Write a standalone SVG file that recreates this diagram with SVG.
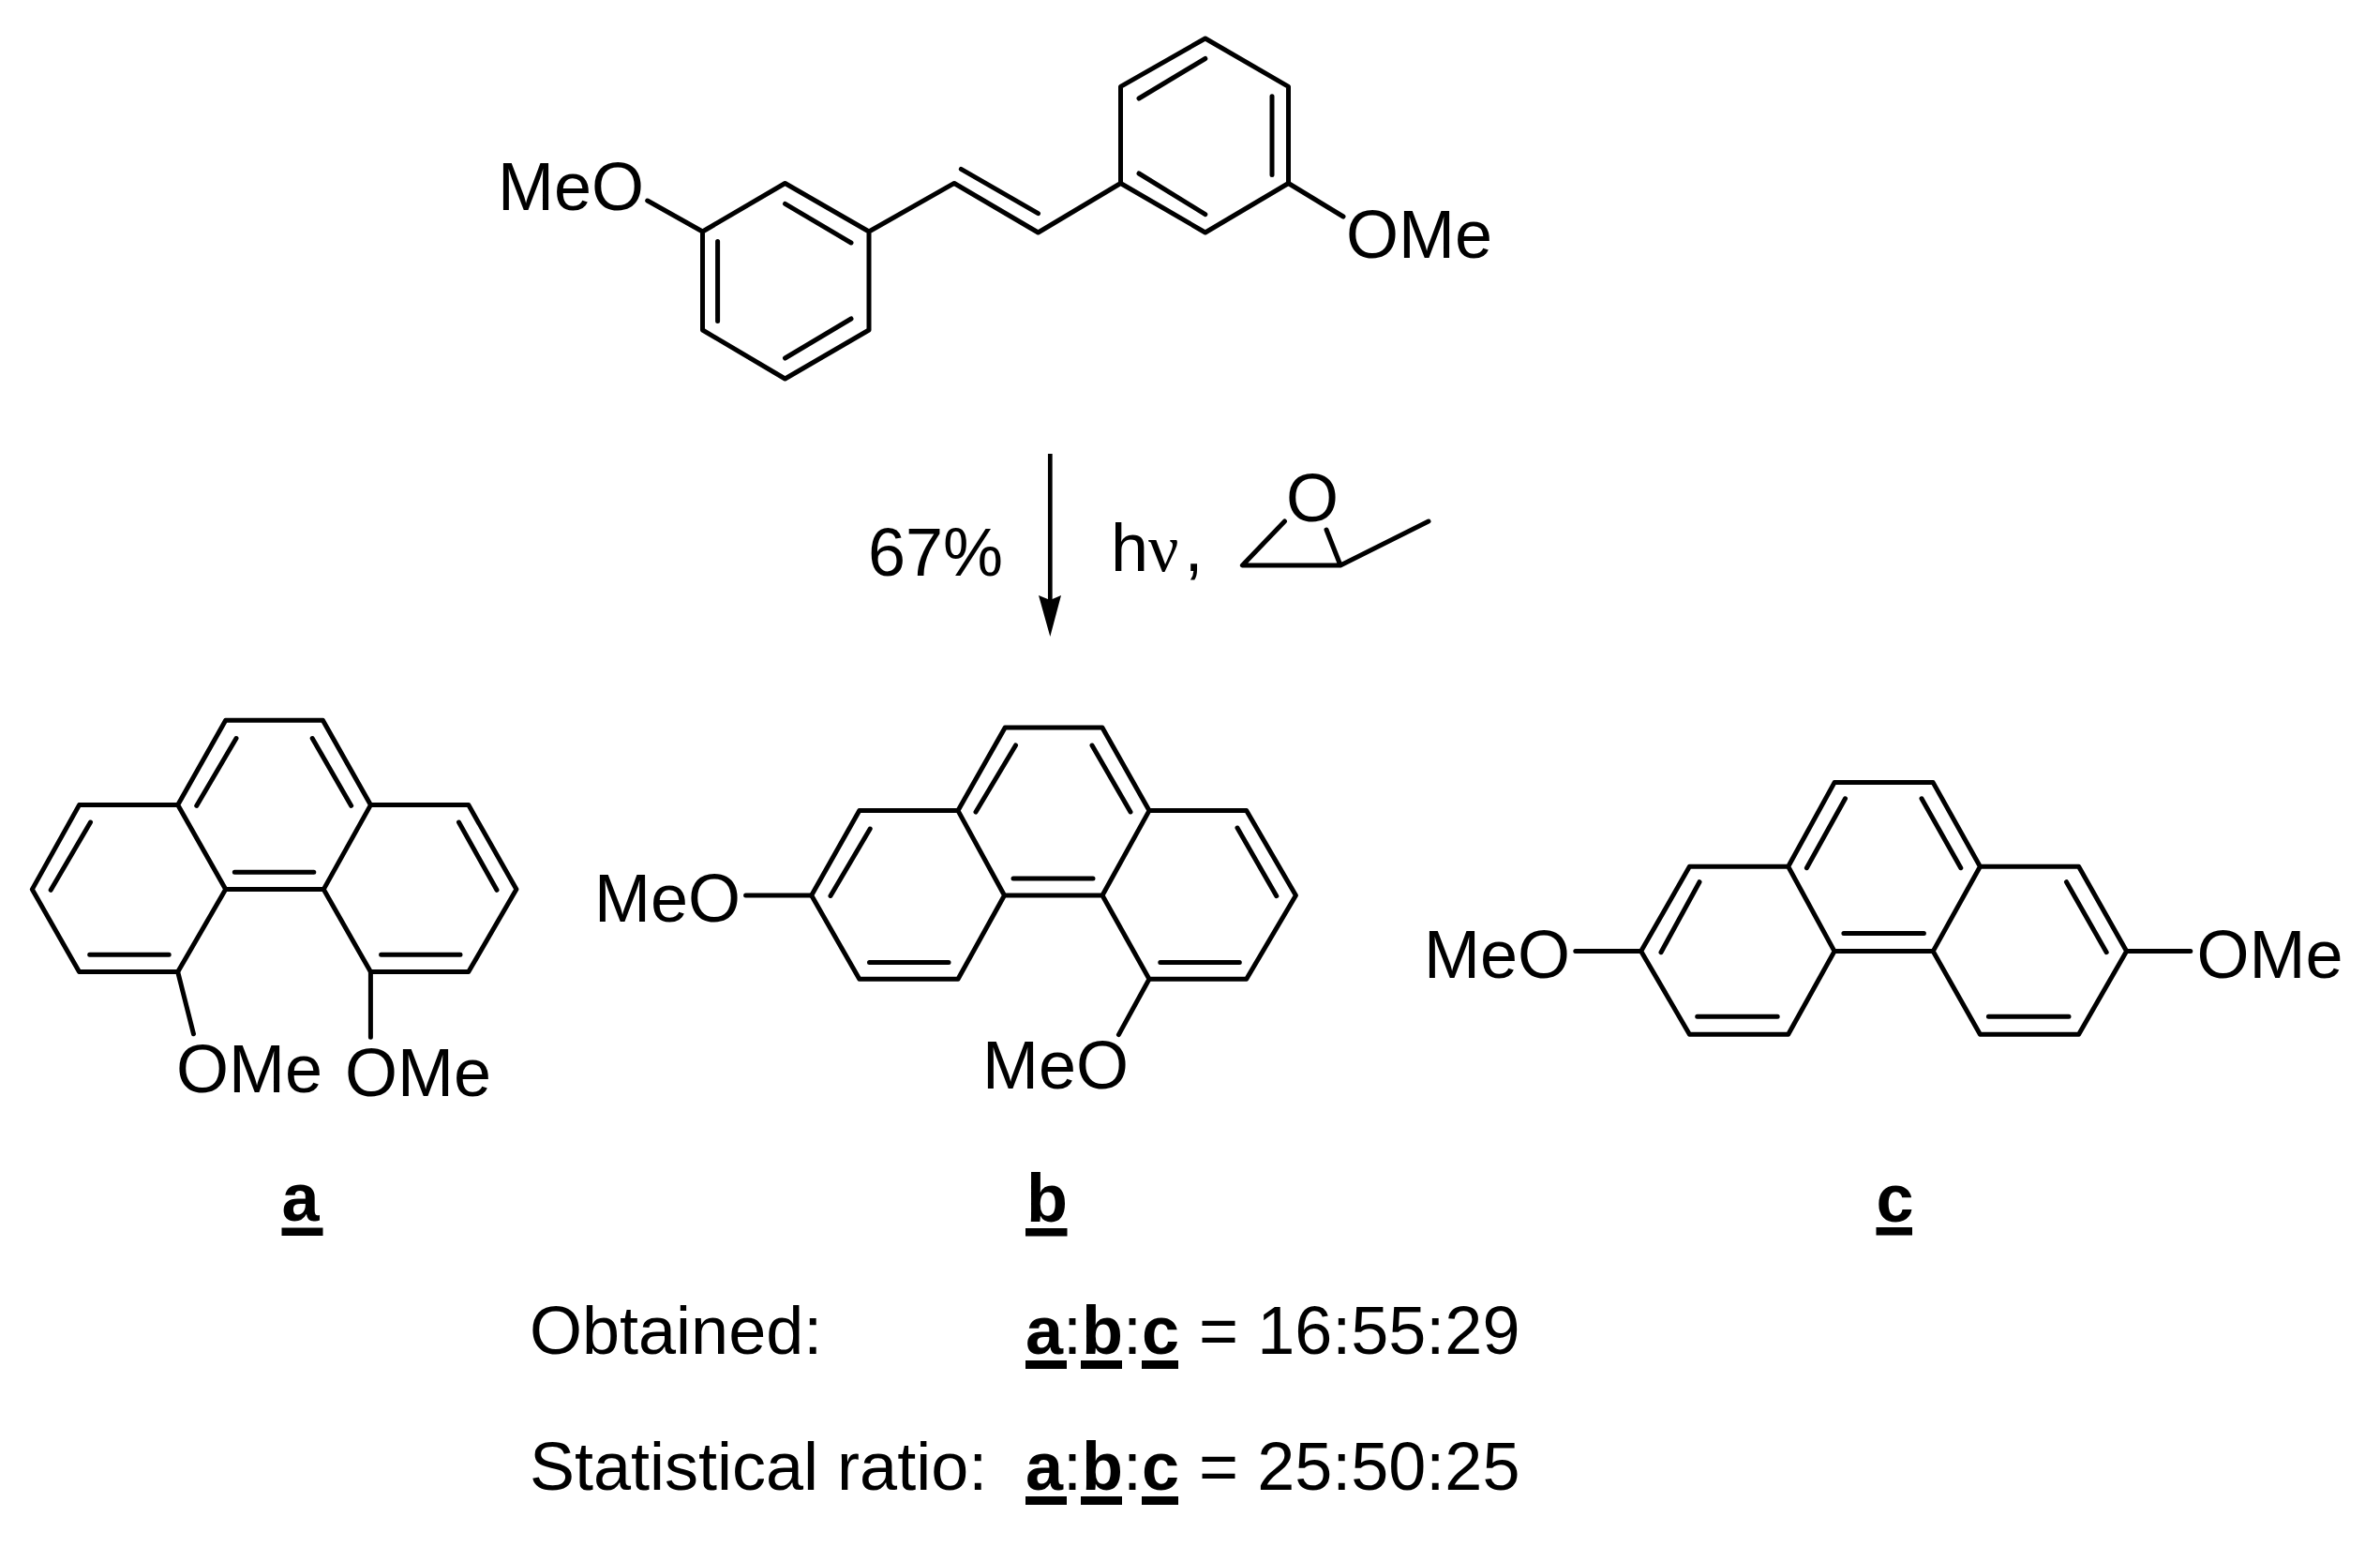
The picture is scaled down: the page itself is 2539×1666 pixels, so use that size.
<svg xmlns="http://www.w3.org/2000/svg" width="2539" height="1666" viewBox="0 0 2539 1666">
<style>
text{font-family:"Liberation Sans",Arial,sans-serif;font-size:72px;fill:#000}
.b{font-weight:bold}
.nu{font-family:"Liberation Serif",serif}
.bond{fill:none;stroke:#000;stroke-width:5;stroke-linecap:round;stroke-linejoin:round}
.u{fill:#000}
</style>
<rect width="2539" height="1666" fill="#fff"/>
<g id="stilbene">
<path class="bond" d="M837.5 195.5L927 247V352L837.5 404L749.5 352V247ZM927 247L1018 195.5L1107.5 248L1195.5 195.5V92.4L1285.8 41L1374.5 92.4V195.5L1285.8 248L1195.5 195.5M749.5 247L690.7 214M1374.5 195.5L1433 231"/>
<path class="bond" d="M765.6 257.6V342.4M837.5 217.4L908 259M908 340L837.5 382M1025.3 180.4L1107.5 227.7M1215 105L1285.8 62.5M1357 102.7V186.6M1215 185L1285.8 228.6"/>
<text x="531" y="224">MeO</text>
<text x="1436" y="275">OMe</text>
</g>
<g id="conditions">
<text x="926" y="614">67%</text>
<text x="1185" y="608.5">h<tspan class="nu">ν</tspan><tspan dx="6">,</tspan></text>
<path class="bond" d="M1370.5 556L1325.4 603H1430L1524 556M1430 603L1415 565"/>
<text x="1372" y="556">O</text>
</g>
<g id="compound-a">
<path class="bond" d="M240.7 768.3H344.4L395.4 858.6L345.2 948.6H240.7L189.7 858.6ZM189.7 858.6H84.5L34.3 948.6L84.5 1036.6H189.7L240.7 948.6M395.4 858.6H499.8L550.9 948.6L499.8 1036.6H395.4L345.2 948.6"/>
<path class="bond" d="M252 787.5L209.7 859.4M333.2 787.5L374.7 859.4M96.5 877L54.2 949.3M95.7 1018.2H180.2M250.3 930.2H334.8M489.5 877L530 949.3M406.6 1018.2H491M189.7 1036.6L206.5 1102.8M395.4 1036.6V1106.2"/>
<text x="188" y="1165">OMe</text>
<text x="368" y="1169">OMe</text>
<text class="b" x="300.5" y="1301.5">a</text><rect class="u" x="300.5" y="1309.5" width="44" height="8.5"/>
</g>
<g id="compound-b">
<path class="bond" d="M1072.2 776H1175.9L1226 864.6L1176 955H1071.5L1022 864.6ZM1022 864.6H916.8L865.7 955L916.8 1044.3H1022L1071.5 955M1226 864.6H1329.7L1382.4 955L1329.7 1044.3H1226L1176 955"/>
<path class="bond" d="M1083.5 795L1041 866M1165 795L1206 866M928.2 884L886 955.5M927.5 1026.4H1012M1081 937H1166M1320 883L1361.8 955.7M1237.8 1026.4H1322.3M865.7 955H795.6M1226 1044.3L1193.4 1103.6"/>
<text x="634" y="983">MeO</text>
<text x="1048" y="1161">MeO</text>
<text class="b" x="1095" y="1302.5">b</text><rect class="u" x="1094" y="1310" width="44.5" height="8.5"/>
</g>
<g id="compound-c">
<path class="bond" d="M1957 834.6H2062.2L2112.4 924.3L2062.2 1014.6H1957L1907.7 924.3ZM1907.7 924.3H1802.4L1750.7 1014.6L1802.4 1103.2H1907.7L1957 1014.6M2112.4 924.3H2217.6L2268.6 1014.6L2217.6 1103.2H2112.4L2062.2 1014.6"/>
<path class="bond" d="M1968.5 851.8L1927.4 925.7M2050 851.8L2091.8 925.7M1813 940.7L1772 1015.7M2204.5 940.7L2247.2 1015.7M1810.7 1084.3H1896.2M2121.4 1084.3H2207M1966.9 995.4H2052.4M1750.7 1014.6H1680.8M2268.6 1014.6H2336.8"/>
<text x="1519" y="1042.5">MeO</text>
<text x="2343.5" y="1042.5">OMe</text>
<text class="b" x="2001.5" y="1302.5">c</text><rect class="u" x="2001.5" y="1309" width="38.5" height="8.5"/>
</g>
<g id="connectors">
<path d="M1120.3 484V640" fill="none" stroke="#000" stroke-width="4.7"/>
<path d="M1108 635L1120.3 640L1132 635L1120.3 679Z" fill="#000"/>
</g>
<g id="ratios">
<text x="565" y="1444">Obtained:</text>
<text x="1094" y="1444"><tspan class="b">a</tspan>:<tspan class="b">b</tspan>:<tspan class="b">c</tspan><tspan dx="1"> = </tspan><tspan dx="0">16:55:29</tspan></text>
<rect class="u" x="1094" y="1451" width="44" height="9"/><rect class="u" x="1153" y="1451" width="44" height="9"/><rect class="u" x="1218" y="1451" width="39" height="9"/>
<text x="565" y="1589">Statistical ratio:</text>
<text x="1094" y="1589"><tspan class="b">a</tspan>:<tspan class="b">b</tspan>:<tspan class="b">c</tspan><tspan dx="1"> = </tspan><tspan dx="0">25:50:25</tspan></text>
<rect class="u" x="1094" y="1596" width="44" height="9"/><rect class="u" x="1153" y="1596" width="44" height="9"/><rect class="u" x="1218" y="1596" width="39" height="9"/>
</g>
</svg>
